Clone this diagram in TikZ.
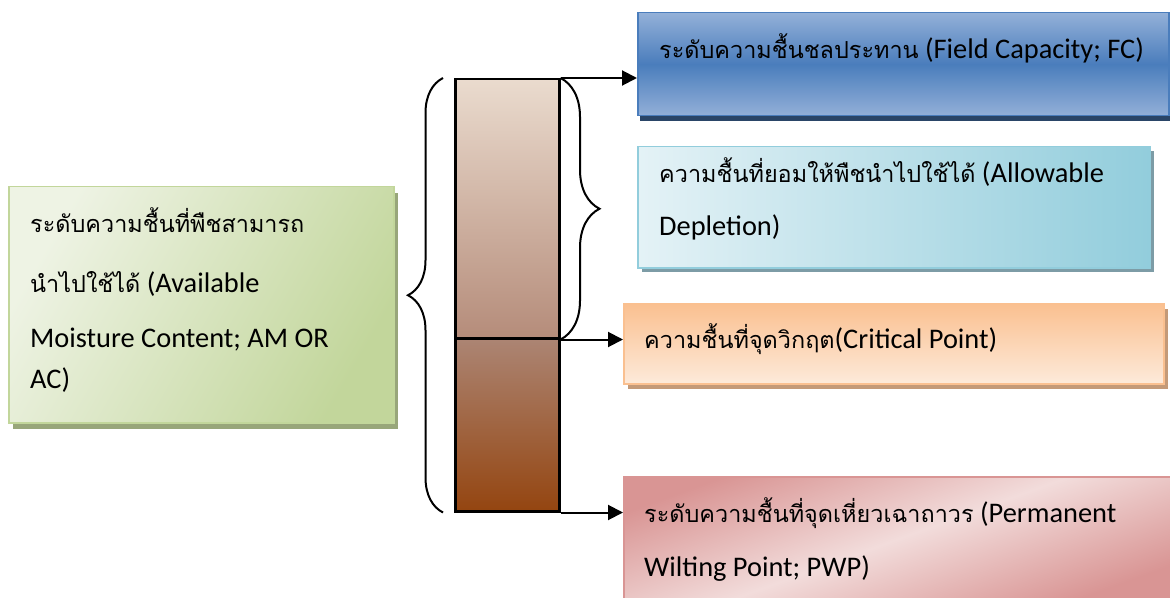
\documentclass[tikz,border=0pt]{standalone}
\usepackage{fontspec}
\setmainfont{Carlito}
\newfontfamily\thai[Script=Thai,Scale=0.825]{Loma}
\usetikzlibrary{arrows.meta,decorations.pathreplacing,shadows}

\definecolor{fcdark}{HTML}{4A7DBC}
\definecolor{fclight}{HTML}{93B0D8}
\definecolor{fcshadow}{HTML}{2A4567}
\definecolor{adlight}{HTML}{E4F2F6}
\definecolor{addark}{HTML}{92CDDC}
\definecolor{adshadow}{HTML}{7D9CA6}
\definecolor{cplight}{HTML}{FDEADA}
\definecolor{cpdark}{HTML}{FAC090}
\definecolor{cpshadow}{HTML}{C49A78}
\definecolor{pwplight}{HTML}{F2DCDB}
\definecolor{pwpdark}{HTML}{D99594}
\definecolor{amlight}{HTML}{EEF3E4}
\definecolor{amdark}{HTML}{C2D69B}
\definecolor{amshadow}{HTML}{98A67A}
\definecolor{soiltop}{HTML}{EADBCE}
\definecolor{soilmid}{HTML}{B58C7A}
\definecolor{soilbot}{HTML}{944510}

\begin{document}
\begin{tikzpicture}[x=1bp,y=-1bp]
\tikzset{
  box/.style={anchor=north west, inner sep=0pt, line width=1.5bp},
  soil/.style={anchor=north west, inner sep=0pt, draw, line width=2.5bp, minimum width=104bp},
  txt/.style={anchor=base west, inner sep=0pt, align=left, font=\fontsize{28.5}{54}\selectfont},
  arr/.style={-{Triangle[length=15bp,width=15bp]}, line width=2bp},
  curly/.style={decorate, decoration={brace, amplitude=#1}, line width=2bp}
}
\useasboundingbox (0,0) rectangle (1170,598);

% boxes
\node[box, draw=fcdark, minimum width=531bp, minimum height=103bp,
  top color=fclight, bottom color=fclight, middle color=fcdark,
  drop shadow={shadow xshift=2bp, shadow yshift=-5bp, fill=fcshadow, opacity=1}] (fc) at (637,12) {};
\node[box, draw=addark, minimum width=512bp, minimum height=121bp,
  left color=adlight, right color=addark,
  drop shadow={shadow xshift=4bp, shadow yshift=-4bp, fill=adshadow, opacity=1}] (ad) at (637,146) {};
\node[box, draw=cpdark, minimum width=540bp, minimum height=80bp,
  top color=cpdark, bottom color=cplight,
  drop shadow={shadow xshift=4bp, shadow yshift=-5bp, fill=cpshadow, opacity=1}] (cp) at (623,303) {};
\node[box, draw=pwpdark, minimum width=549bp, minimum height=124bp,
  top color=pwpdark, bottom color=pwpdark, middle color=pwplight, shading angle=20] (pwp) at (623,476) {};
\node[box, draw=amdark, minimum width=385bp, minimum height=236bp,
  left color=amlight, right color=amdark, shading angle=60,
  drop shadow={shadow xshift=4bp, shadow yshift=-6bp, fill=amshadow, opacity=1}] (am) at (8,186) {};

% texts (base = last line)
\node[txt] (fctext) at (659,59) {{\thai ระดับความชื้นชลประทาน} (Field Capacity; FC)};
\node[txt] (adtext) at (659,236) {{\thai ความชื้นที่ยอมให้พืชนำไปใช้ได้} (Allowable\\ Depletion)};
\node[txt] (cptext) at (644,349) {{\thai ความชื้นที่จุดวิกฤต}(Critical Point)};
\node[txt] (pwptext) at (644,576) {{\thai ระดับความชื้นที่จุดเหี่ยวเฉาถาวร} (Permanent\\ Wilting Point; PWP)};
\node[txt] (amtext) at (30,388) {{\thai ระดับความชื้นที่พืชสามารถ}\\[6bp] {\thai นำไปใช้ได้} (Available\\[1bp] Moisture Content; AM OR\\[-13bp] AC)};

% soil column
\node[soil, minimum height=259bp, top color=soiltop, bottom color=soilmid] (upper) at (454,78) {};
\node[soil, minimum height=173bp, top color=soilmid!95!black, bottom color=soilbot] (lower) at (454,337) {};

% arrows
\draw[arr] (upper.north east) -- (upper.north east -| fc.west);
\draw[arr] (upper.south east) -- (upper.south east -| cp.west);
\draw[arr] (lower.south east) -- (lower.south east -| pwp.west);

% braces
\draw[curly=35bp] ([xshift=-11bp]lower.south west) -- ([xshift=-11bp]upper.north west);
\draw[curly=39bp] (upper.north east) -- (upper.south east);
\end{tikzpicture}
\end{document}
